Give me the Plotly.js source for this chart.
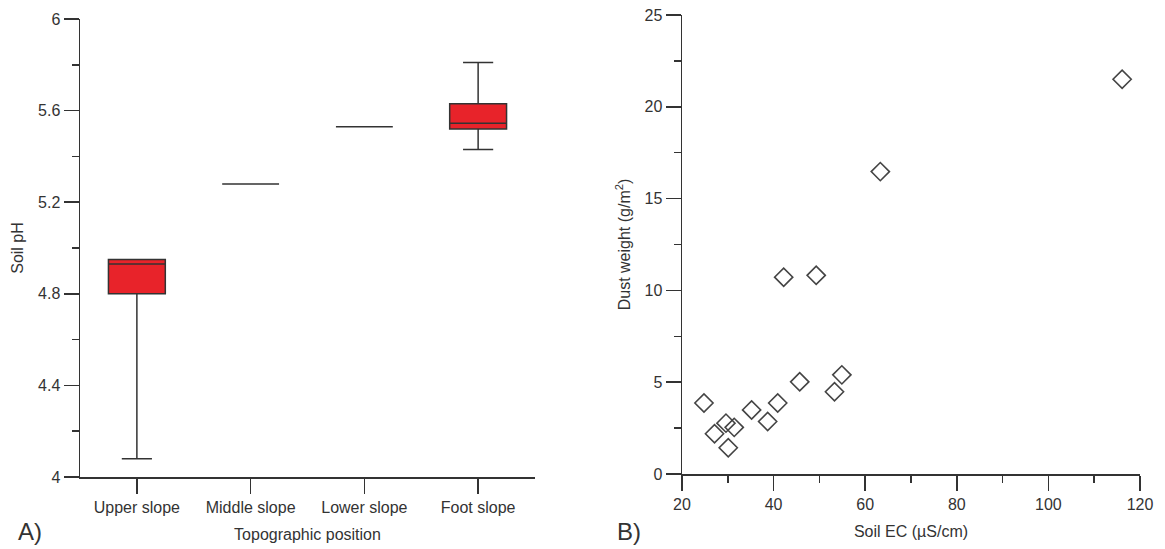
<!DOCTYPE html>
<html>
<head>
<meta charset="utf-8">
<script src="https://cdn.plot.ly/plotly-3.0.1.min.js"></script>
<style>
  html, body { margin: 0; padding: 0; background: #fff; }
  #chart { width: 1165px; height: 549px; }
</style>
</head>
<body>
<div id="chart"></div>
<script>
// ---- Panel A: soil pH by topographic position (box summary stats) ----
const positions = ["Upper slope", "Middle slope", "Lower slope", "Foot slope"];
const phLowerFence = [4.08, 5.28, 5.53, 5.43];
const phQ1         = [4.80, 5.28, 5.53, 5.52];
const phMedian     = [4.93, 5.28, 5.53, 5.545];
const phQ3         = [4.95, 5.28, 5.53, 5.63];
const phUpperFence = [4.95, 5.28, 5.53, 5.81];

// ---- Panel B: dust weight vs soil EC ----
const soilEC     = [24.8, 27.1, 29.6, 30.1, 31.4, 35.2, 38.7, 40.9, 42.2, 45.7, 49.3, 53.3, 54.9, 63.3, 116.1];
const dustWeight = [3.87, 2.19, 2.77, 1.43, 2.54, 3.49, 2.86, 3.87, 10.72, 5.02, 10.82, 4.48, 5.40, 16.47, 21.5];

const FONT = "Liberation Sans, Arial, Helvetica, sans-serif";
const INK = "#333333";
const W = 1165, H = 549;

const boxTrace = {
  type: "box",
  x: positions,
  lowerfence: phLowerFence,
  q1: phQ1,
  median: phMedian,
  q3: phQ3,
  upperfence: phUpperFence,
  width: 0.5,
  whiskerwidth: 0.53,
  fillcolor: "#e8232a",
  line: { color: INK, width: 1.5 },
  boxpoints: false,
  showlegend: false,
  hoverinfo: "skip",
  xaxis: "x",
  yaxis: "y"
};

const scatterTrace = {
  type: "scatter",
  mode: "markers",
  x: soilEC,
  y: dustWeight,
  marker: { symbol: "diamond-open", size: 14, color: "#444444", line: { width: 1.6, color: "#444444" } },
  showlegend: false,
  hoverinfo: "skip",
  xaxis: "x2",
  yaxis: "y2"
};

const axisBase = {
  showline: true,
  linecolor: INK,
  linewidth: 1.5,
  showgrid: false,
  zeroline: false,
  ticks: "outside",
  ticklen: 15,
  tickwidth: 1.5,
  tickcolor: INK,
  tickfont: { family: FONT, size: 16, color: INK },
  automargin: false,
  fixedrange: true
};

const layout = {
  width: W,
  height: H,
  margin: { l: 0, r: 0, t: 0, b: 0 },
  paper_bgcolor: "#ffffff",
  plot_bgcolor: "#ffffff",
  font: { family: FONT, color: INK },
  xaxis: Object.assign({}, axisBase, {
    domain: [80 / W, 535 / W],
    anchor: "y",
    type: "category",
    range: [-0.5, 3.5],
    title: { text: "Topographic position", font: { family: FONT, size: 16, color: INK }, standoff: 14 }
  }),
  yaxis: Object.assign({}, axisBase, {
    domain: [1 - 477 / H, 1 - 19 / H],
    anchor: "x",
    range: [4, 6],
    tick0: 4,
    dtick: 0.4,
    minor: { dtick: 0.2, ticks: "outside", ticklen: 7, tickwidth: 1.5, tickcolor: INK },
    title: { text: "Soil pH", font: { family: FONT, size: 16, color: INK }, standoff: 10 }
  }),
  xaxis2: Object.assign({}, axisBase, {
    domain: [682 / W, 1140 / W],
    anchor: "y2",
    range: [20, 120],
    tick0: 20,
    dtick: 20,
    minor: { dtick: 10, ticks: "outside", ticklen: 7, tickwidth: 1.5, tickcolor: INK },
    title: { text: "Soil EC (µS/cm)", font: { family: FONT, size: 16, color: INK }, standoff: 14 }
  }),
  yaxis2: Object.assign({}, axisBase, {
    domain: [1 - 474 / H, 1 - 15 / H],
    anchor: "x2",
    range: [0, 25],
    tick0: 0,
    dtick: 5,
    minor: { dtick: 2.5, ticks: "outside", ticklen: 7, tickwidth: 1.5, tickcolor: INK },
    title: { text: "Dust weight (g/m<sup>2</sup>)", font: { family: FONT, size: 16, color: INK }, standoff: 10 }
  }),
  annotations: [
    { text: "A)", xref: "paper", yref: "paper", x: 16 / W, y: 1 - 531 / H, xanchor: "left", yanchor: "middle",
      showarrow: false, font: { family: FONT, size: 24, color: INK } },
    { text: "B)", xref: "paper", yref: "paper", x: 615 / W, y: 1 - 531 / H, xanchor: "left", yanchor: "middle",
      showarrow: false, font: { family: FONT, size: 24, color: INK } }
  ]
};

Plotly.newPlot("chart", [boxTrace, scatterTrace], layout, { staticPlot: true, displayModeBar: false });
</script>
</body>
</html>
